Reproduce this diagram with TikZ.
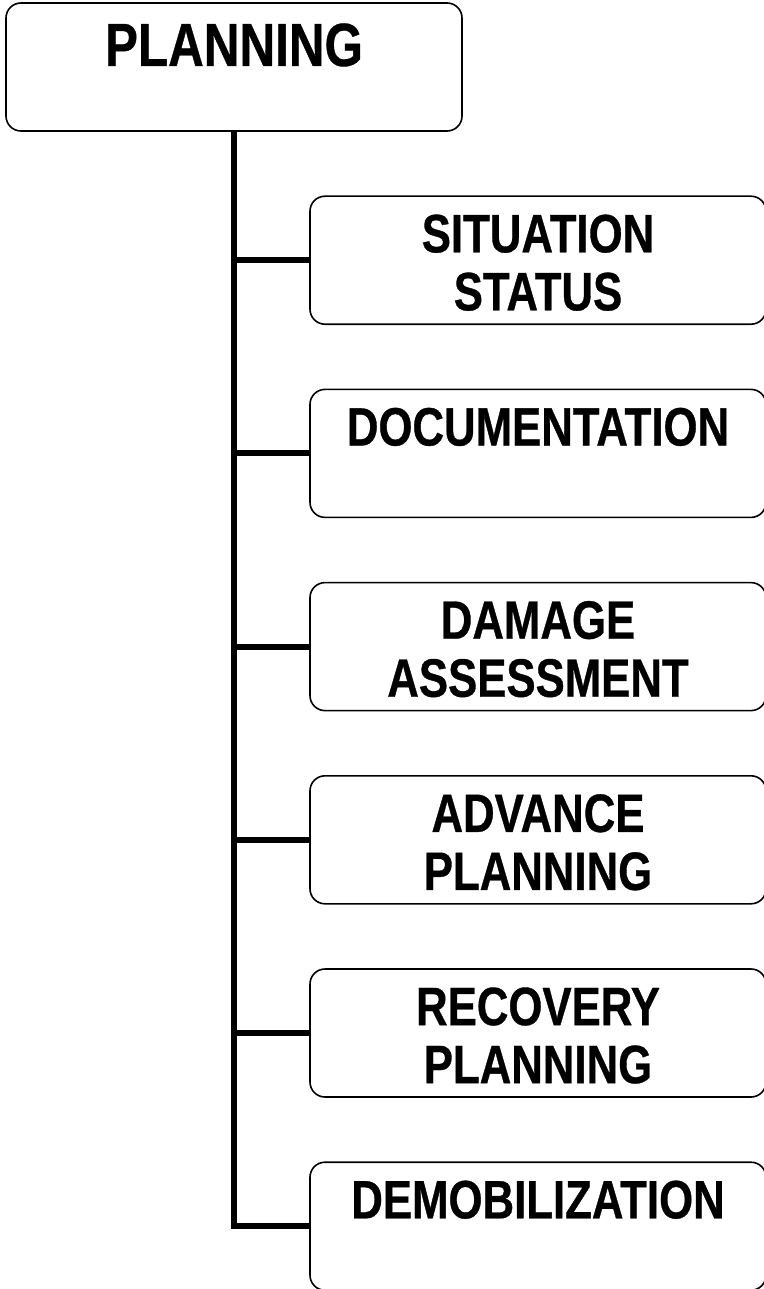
\documentclass[tikz,border=0pt]{standalone}
\usepackage{fontspec}
\newfontfamily\narrowfont{Liberation Sans}[FakeStretch=0.81, BoldFeatures={FakeBold=0.6}]
\usetikzlibrary{positioning}

\begin{document}
\begin{tikzpicture}[x=1pt, y=-1pt,
unit/.style={draw, line width=1.6pt, rounded corners=15pt, minimum width=456pt, minimum height=128pt, inner sep=0pt},
caption/.style={inner sep=0pt, align=center, font=\narrowfont\bfseries\fontsize{54}{58}\selectfont},
trunk/.style={line width=6pt, line join=miter}
]
\useasboundingbox (0,0) rectangle (763,1289);

\node[unit] (planning) at (234,67) {};
\node[caption, font=\narrowfont\bfseries\fontsize{61}{64}\selectfont, below=21pt of planning.north] (planning-text) {PLANNING};

\foreach \name/\txt [count=\i] in {situation/{SITUATION\\STATUS}, documentation/{DOCUMENTATION}, damage/{DAMAGE\\ASSESSMENT}, advance/{ADVANCE\\PLANNING}, recovery/{RECOVERY\\PLANNING}, demobilization/{DEMOBILIZATION}} {
    \node[unit] (\name) at (538,{67+193.2*\i}) {};
    \node[caption, below=19pt of \name.north] (\name-text) {\txt};
    \draw[trunk] (planning.south |- \name.west) -- (\name.west);
}

\draw[trunk] (planning.south) |- (demobilization.west);

\end{tikzpicture}
\end{document}
